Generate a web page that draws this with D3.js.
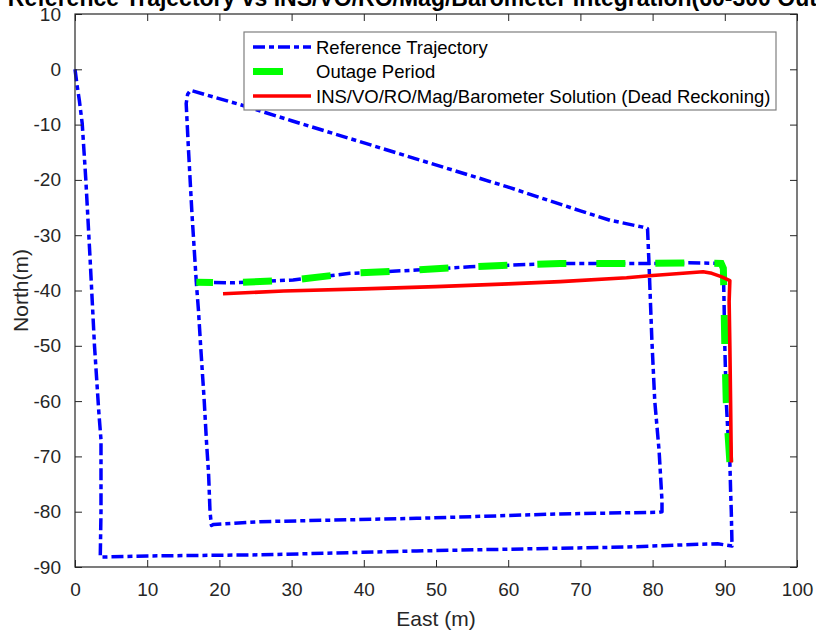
<!DOCTYPE html>
<html>
<head>
<meta charset="utf-8">
<script src="https://cdn.jsdelivr.net/npm/d3@7"></script>
<style>
  body { margin: 0; background: #fff; }
  text { font-family: "Liberation Sans", Arial, sans-serif; }
</style>
</head>
<body>
<svg></svg>
<script>
const WIDTH = 816,
	HEIGHT = 634

// reference trajectory (East, North in m)
const refEast = [0, 0.3, 0.6, 1.0, 1.5, 2.1, 2.7, 3.3, 3.6, 3.6, 3.5, 10, 25.6, 47.3, 67.2, 76.2, 86.3, 89, 91.0, 90.9, 90.8,
	90.7, 90.4, 90.2, 90.0, 89.9, 89.8, 89.5, 85, 80.1, 67.2, 62.6, 54.7, 47.3, 38.1, 30.2, 21.9, 16.8,
	16.2, 15.7, 15.4, 15.6, 16.0, 22.9, 30, 45, 60, 70, 74.1, 78.5, 79.3, 79.5, 79.9, 80.3, 80.9, 81.3, 81.3,
	80.9, 76.2, 67.2, 47.3, 25.6, 19.2, 18.9, 18.7, 18.5, 18.2, 17.9, 17.4, 17.1, 16.8]
const refNorth = [0, -3, -5.6, -9.8, -20, -34.5, -50, -62, -67, -80, -88.2, -88.0, -87.8, -87.1, -86.6, -86.4, -85.9, -85.8, -86.2, -80, -76,
	-71.0, -65, -60, -50, -42.4, -36, -35.1, -35.0, -35.1, -35.1, -35.3, -35.7, -36.3, -36.9, -38.1, -38.6, -38.5,
	-26.1, -14.1, -6.2, -4.5, -3.8, -6.4, -9.3, -15.3, -21.3, -25.6, -27.3, -28.5, -28.8, -35.1, -49.0, -60, -69, -78, -80.0,
	-80.1, -80.2, -80.4, -81.2, -81.8, -82.3, -82.5, -80, -73.1, -67.1, -60, -50, -43.6, -38.5]

// outage part of the reference
const outageEast = [90.7, 90.4, 90.2, 90.0, 89.9, 89.8, 89.5, 85, 80.1, 67.2, 62.6, 54.7, 47.3, 38.1, 30.2, 21.9, 16.8]
const outageNorth = [-71.0, -65, -60, -50, -42.4, -36, -35.1, -35.0, -35.1, -35.1, -35.3, -35.7, -36.3, -36.9, -38.1, -38.6, -38.5]

// dead reckoning solution
const drEast = [90.9, 90.8, 90.7, 90.6, 90.7, 89.5, 88.2, 87.0, 80, 76.4, 67.2, 60, 50, 40, 28.9, 20.5]
const drNorth = [-71.1, -60, -50, -42, -38.2, -37.5, -36.9, -36.6, -37.3, -37.7, -38.4, -38.8, -39.3, -39.7, -40.1, -40.6]

const xTicks = [0, 10, 20, 30, 40, 50, 60, 70, 80, 90, 100]
const yTicks = [10, 0, -10, -20, -30, -40, -50, -60, -70, -80, -90]
const legendLabels = ['Reference Trajectory', 'Outage Period', 'INS/VO/RO/Mag/Barometer Solution (Dead Reckoning)']
const titleText = 'Reference Trajectory vs INS/VO/RO/Mag/Barometer Integration(60-300 Outage)'

const svg = d3.select('svg').attr('width', WIDTH).attr('height', HEIGHT)

const plotLeft = 75, plotRight = 797, plotTop = 14, plotBottom = 567

const x = d3.scaleLinear().domain([0, 100]).range([plotLeft, plotRight]),
	y = d3.scaleLinear().domain([-90, 10]).range([plotBottom, plotTop])

const zip = (a, b) => a.map((v, i) => [v, b[i]])
const line = d3.line().x(d => x(d[0])).y(d => y(d[1]))

// data lines
svg.append('path')
	.datum(zip(refEast, refNorth))
	.attr('fill', 'none')
	.attr('stroke', '#0000ff')
	.attr('stroke-width', 3.5)
	.attr('stroke-dasharray', '12,4,5,4')
	.attr('stroke-linejoin', 'round')
	.attr('d', line)

svg.append('path')
	.datum(zip(outageEast, outageNorth))
	.attr('fill', 'none')
	.attr('stroke', '#00ff00')
	.attr('stroke-width', 7)
	.attr('stroke-dasharray', '29,30')
	.attr('d', line)

svg.append('path')
	.datum(zip(drEast, drNorth))
	.attr('fill', 'none')
	.attr('stroke', '#ff0000')
	.attr('stroke-width', 3.6)
	.attr('stroke-linejoin', 'round')
	.attr('d', line)

// axes, ticks inward on all four sides
const axisColor = '#262626'
const styleAxis = g => {
	g.select('.domain').remove()
	g.selectAll('line').attr('stroke', axisColor)
	g.selectAll('text').attr('fill', axisColor).style('font-size', '19px')
}

svg.append('g')
	.attr('transform', `translate(0,${plotBottom})`)
	.call(d3.axisBottom(x).tickValues(xTicks).tickFormat(d => String(d)).tickSizeInner(-7).tickSizeOuter(0).tickPadding(16))
	.call(styleAxis)

svg.append('g')
	.attr('transform', `translate(0,${plotTop})`)
	.call(d3.axisTop(x).tickValues(xTicks).tickSizeInner(-7).tickSizeOuter(0).tickFormat(''))
	.call(styleAxis)

svg.append('g')
	.attr('transform', `translate(${plotLeft},0)`)
	.call(d3.axisLeft(y).tickValues(yTicks).tickFormat(d => String(d)).tickSizeInner(-7).tickSizeOuter(0).tickPadding(14))
	.call(styleAxis)

svg.append('g')
	.attr('transform', `translate(${plotRight},0)`)
	.call(d3.axisRight(y).tickValues(yTicks).tickSizeInner(-7).tickSizeOuter(0).tickFormat(''))
	.call(styleAxis)

svg.append('rect')
	.attr('x', plotLeft).attr('y', plotTop)
	.attr('width', plotRight - plotLeft).attr('height', plotBottom - plotTop)
	.attr('fill', 'none')
	.attr('stroke', axisColor)
	.attr('stroke-width', 1.2)

// labels
svg.append('text')
	.attr('x', (plotLeft + plotRight) / 2).attr('y', 626)
	.attr('text-anchor', 'middle')
	.attr('fill', axisColor)
	.style('font-size', '21px')
	.text('East (m)')

svg.append('text')
	.attr('transform', `translate(28,${(plotTop + plotBottom) / 2}) rotate(-90)`)
	.attr('text-anchor', 'middle')
	.attr('fill', axisColor)
	.style('font-size', '21px')
	.text('North(m)')

svg.append('text')
	.attr('x', (plotLeft + plotRight) / 2).attr('y', 6)
	.attr('text-anchor', 'middle')
	.attr('fill', '#000')
	.style('font-size', '23px')
	.style('font-weight', 'bold')
	.text(titleText)

// legend
const legend = svg.append('g')
legend.append('rect')
	.attr('x', 244).attr('y', 32)
	.attr('width', 532).attr('height', 78)
	.attr('fill', '#fff')
	.attr('stroke', '#7f7f7f')
	.attr('stroke-width', 1.2)

const legendStyles = [
	{ color: '#0000ff', width: 3.5, dash: '12,4,5,4', len: 58 },
	{ color: '#00ff00', width: 7, dash: null, len: 30 },
	{ color: '#ff0000', width: 3.6, dash: null, len: 58 }
]

legendLabels.forEach((label, i) => {
	const cy = 47 + i * 24.5, s = legendStyles[i]
	legend.append('line')
		.attr('x1', 253).attr('x2', 253 + s.len)
		.attr('y1', cy).attr('y2', cy)
		.attr('stroke', s.color)
		.attr('stroke-width', s.width)
		.attr('stroke-dasharray', s.dash)
	legend.append('text')
		.attr('x', 316).attr('y', cy + 6.5)
		.attr('fill', '#000')
		.style('font-size', '18.5px')
		.text(label)
})
</script>
</body>
</html>
